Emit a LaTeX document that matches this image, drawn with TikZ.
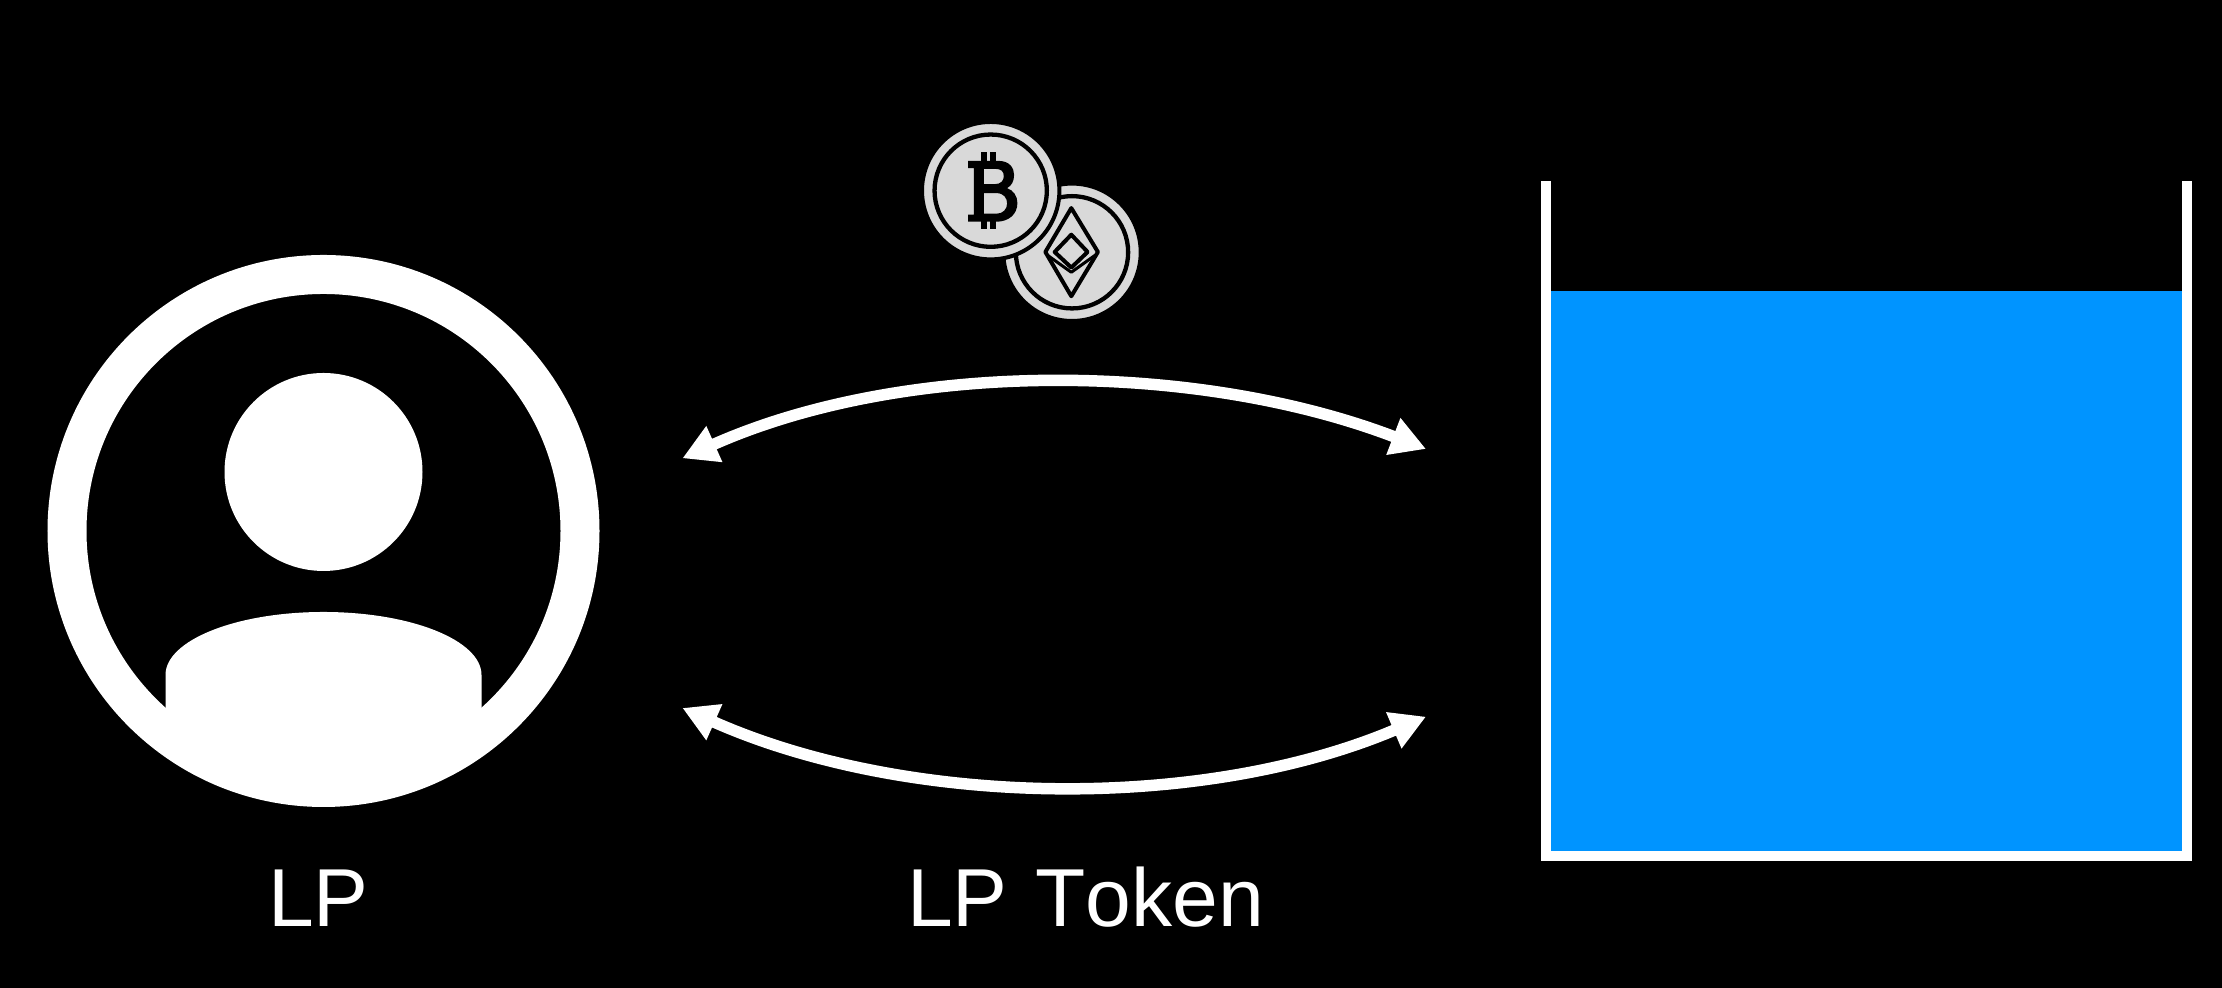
\documentclass[tikz,border=0pt]{standalone}
\usepackage{fontspec}
\setmainfont{Liberation Sans}[Kerning=Off,WordSpace=1.2]
\usetikzlibrary{arrows.meta,positioning}
\definecolor{poolblue}{HTML}{0094FF}
\definecolor{coingray}{HTML}{D9D9D9}
\tikzset{
	swap/.style={{Triangle[length=.35cm,width=.37cm]}-{Triangle[length=.35cm,width=.37cm]},white,line width=.115cm,looseness=.84},
	label/.style={text=white,font=\fontsize{23.4}{23.4}\selectfont,inner sep=0pt,anchor=base},
	coinrim/.style={circle,fill=coingray,draw=black,line width=.04cm,minimum size=1.374cm,inner sep=0pt},
	coinface/.style={circle,fill=coingray,draw=black,line width=.043cm,minimum size=1.123cm,inner sep=0pt}
}
\begin{document}
\begin{tikzpicture}
	\useasboundingbox (0,0) rectangle (22.22,9.88);
	\fill[black] (0,0) rectangle (22.22,9.88);

	% user
	\node[circle,draw=white,line width=.39cm,minimum size=5.13cm,inner sep=0pt](LPring) at (3.235,4.57){};
	\node[circle,fill=white,minimum size=1.98cm,inner sep=0pt](LPhead) at (3.235,5.16){};
	\begin{scope}
		\clip (LPring.center) circle (2.5cm);
		\fill[white] (1.655,1.9) -- (1.655,3.13) arc (180:0:1.58cm and .63cm) -- (4.815,1.9) -- cycle;
	\end{scope}
	\node[label] (LPtext) at (3.185,.613) {LP};

	% coins
	\node[coinrim](ETHrim) at (10.72,7.357){};
	\node[coinface](ETHface) at (ETHrim){};
	\node[coinrim](BTCrim) at (9.907,7.973){};
	\node[coinface](BTCface) at (BTCrim){};
	\begin{scope}[shift={(9,8.88)},x=.003333cm,y=-.003333cm]
		\fill[black,even odd rule] (205,183) -- (295,183) .. controls (330,183) and (343,205) .. (343,225) .. controls (343,245) and (335,258) .. (322,265) .. controls (342,272) and (353,290) .. (353,310) .. controls (353,345) and (325,366) .. (290,366) -- (205,366) -- (205,345) -- (222,345) -- (222,205) -- (205,205) -- cycle
			(252,207) -- (285,207) .. controls (305,207) and (312,215) .. (312,229) .. controls (312,243) and (303,253) .. (285,253) -- (252,253) -- cycle
			(252,280) -- (290,280) .. controls (312,280) and (322,295) .. (322,311) .. controls (322,328) and (310,342) .. (290,342) -- (252,342) -- cycle;
		\foreach \x in {243,270}{
			\fill[black] (\x,155) rectangle ++(19,30);
			\fill[black] (\x,364) rectangle ++(19,24);
		}
		\draw[black,line width=.04cm,line join=round] (515,325) -- (595,457) -- (515,590) -- (437,457) -- cycle;
		\draw[black,line width=.04cm,line join=round] (515,405) -- (564,457) -- (515,504) -- (465,457) -- cycle;
		\draw[black,line width=.03cm,line join=round] (445,468) -- (515,518) -- (585,468);
	\end{scope}

	% pool
	\node[fill=poolblue,minimum width=6.31cm,minimum height=5.6cm,inner sep=0pt,outer sep=0pt](pool) at (18.669,4.17){};
	\draw[white,line width=.1cm] (15.464,8.07) -- (15.464,1.32) -- (21.874,1.32) -- (21.874,8.07);

	% arrows
	\coordinate (topL) at (6.824,5.297);
	\coordinate (topR) at (14.26,5.39);
	\coordinate (botL) at (6.824,2.80);
	\coordinate (botR) at (14.26,2.713);
	\draw[swap] (topL) to[out=24,in=159] (topR);
	\draw[swap] (botL) to[out=-24,in=203] (botR);
	\node[label] (tokentext) at (10.855,.613) {LP Token};
\end{tikzpicture}
\end{document}
